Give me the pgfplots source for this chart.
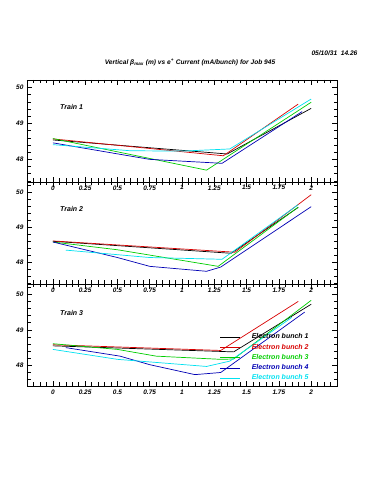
\documentclass[border=0pt]{standalone}
\usepackage{fontspec}
\setmainfont{Liberation Sans}
\usepackage{pgfplots}
\pgfplotsset{compat=1.18}
\definecolor{cRed}{RGB}{215,0,0}
\definecolor{cGreen}{RGB}{0,205,0}
\definecolor{cBlue}{RGB}{0,0,180}
\definecolor{cCyan}{RGB}{0,225,240}
\newcommand{\lf}{\bfseries\itshape}
\pgfplotsset{
 panel/.style={
  scale only axis, width=310pt, height=102pt,
  xmin=-0.2, xmax=2.2,
  xtick={0,0.25,0.5,0.75,1,1.25,1.5,1.75,2},
  xticklabels={0,0.25,0.5,0.75,1,1.25,1.5,1.75,2},
  minor xtick={-0.15,-0.1,-0.05,0.05,0.1,0.15,0.2,0.3,0.35,0.4,0.45,0.55,0.6,0.65,0.7,0.8,0.85,0.9,0.95,1.05,1.1,1.15,1.2,1.3,1.35,1.4,1.45,1.55,1.6,1.65,1.7,1.8,1.85,1.9,1.95,2.05,2.1,2.15},
  ytick={48,49,50}, yticklabels={48,49,50},
  minor ytick={47.4,47.6,47.8,48.2,48.4,48.6,48.8,49.2,49.4,49.6,49.8,50.2},
  major tick length=5pt, minor tick length=3.5pt,
  tick style={black, line width=0.5pt},
  ticklabel style={font=\lf\fontsize{6.5}{7}\selectfont},
  /pgf/number format/assume math mode=true,
  axis line style={line width=0.7pt},
  every axis plot/.append style={line width=0.7pt, mark=none},
 }
}
\begin{document}
\begin{tikzpicture}
\useasboundingbox (0pt,0pt) rectangle (375pt,500pt);
\node[font=\lf\fontsize{6.6}{8}\selectfont] at (190pt,438pt) {Vertical β\textsubscript{max} (m) vs e\textsuperscript{+} Current (mA/bunch) for Job 945};
\node[anchor=west, font=\lf\fontsize{6.6}{8}\selectfont] at (308pt,447pt) {05/10/31\ \ 14.26};

% Train 1
\begin{axis}[panel, at={(27pt,318pt)}, anchor=south west, ymin=47.37, ymax=50.21]
\addplot[black] coordinates {(0,48.54) (1.35,48.15) (2,49.42)};
\addplot[cRed] coordinates {(0,48.57) (1.32,48.10) (1.9,49.54)};
\addplot[cGreen] coordinates {(0,48.58) (1.19,47.70) (2,49.59)};
\addplot[cBlue] coordinates {(0,48.46) (0.75,48.00) (1.31,47.89) (1.93,49.33)};
\addplot[cCyan] coordinates {(0,48.41) (0.6,48.24) (1.0,48.23) (1.37,48.29) (2,49.68)};
\node[anchor=west, font=\lf\fontsize{7}{8}\selectfont] at (axis cs:0.03,49.47) {Train 1};
\end{axis}

% Train 2
\begin{axis}[panel, at={(27pt,216pt)}, anchor=south west, ymin=47.39, ymax=50.28]
\addplot[black] coordinates {(0,48.60) (1.38,48.26) (1.9,49.56)};
\addplot[cRed] coordinates {(0,48.61) (1.41,48.29) (2,49.92)};
\addplot[cGreen] coordinates {(0,48.58) (0.5,48.36) (1.28,47.89) (1.9,49.57)};
\addplot[cBlue] coordinates {(0,48.58) (0.5,48.14) (0.75,47.89) (1.19,47.75) (1.3,47.87) (2,49.58)};
\addplot[cCyan] coordinates {(0.1,48.35) (0.75,48.14) (1.31,48.09) (1.9,49.64)};
\node[anchor=west, font=\lf\fontsize{7}{8}\selectfont] at (axis cs:0.03,49.51) {Train 2};
\end{axis}

% Train 3
\begin{axis}[panel, at={(27pt,114pt)}, anchor=south west, ymin=47.42, ymax=50.29,
  legend style={at={(axis cs:1.27,48.98)}, anchor=north west, draw=none, fill=none,
    font=\lf\fontsize{7}{8}\selectfont, row sep=1.7pt, nodes={inner sep=1pt}},
  legend cell align=left,
  legend image code/.code={\draw[#1] (0pt,0pt) -- (20pt,0pt); \path (30pt,0pt);}]
\addplot[black] coordinates {(0,48.55) (1.40,48.38) (2,49.72)};
\addlegendentry{Electron bunch 1}
\addplot[cRed] coordinates {(0,48.58) (1.30,48.42) (1.9,49.80)};
\addlegendentry{\textcolor{cRed}{Electron bunch 2}}
\addplot[cGreen] coordinates {(0,48.61) (0.5,48.45) (0.8,48.26) (1.3,48.17) (1.4,48.18) (2,49.83)};
\addlegendentry{\textcolor{cGreen}{Electron bunch 3}}
\addplot[cBlue] coordinates {(0.1,48.50) (0.52,48.26) (0.75,48.02) (1.1,47.74) (1.3,47.80) (1.95,49.50)};
\addlegendentry{\textcolor{cBlue}{Electron bunch 4}}
\addplot[cCyan] coordinates {(0,48.45) (0.5,48.17) (1.19,47.97) (1.37,48.12) (1.85,49.35)};
\addlegendentry{\textcolor{cCyan}{Electron bunch 5}}
\node[anchor=west, font=\lf\fontsize{7}{8}\selectfont] at (axis cs:0.03,49.47) {Train 3};
\end{axis}
\end{tikzpicture}
\end{document}
